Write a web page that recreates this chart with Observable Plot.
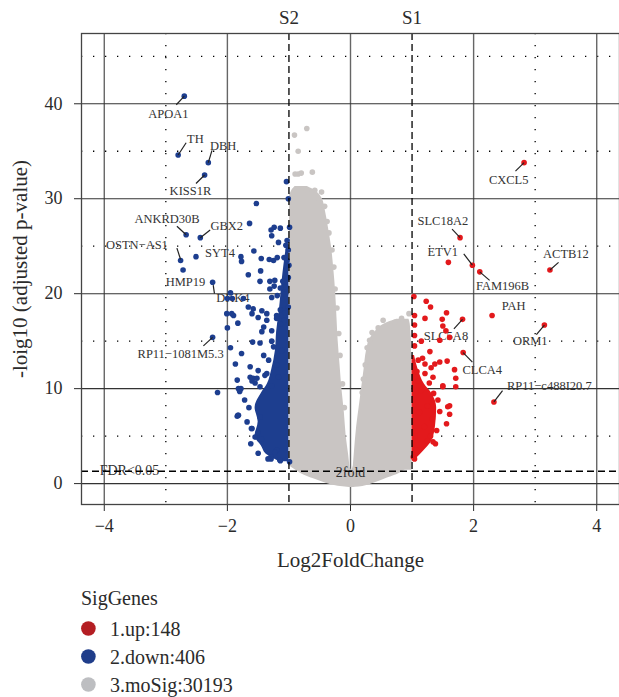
<!DOCTYPE html>
<html><head><meta charset="utf-8">
<script src="https://cdn.jsdelivr.net/npm/d3@7"></script>
<script src="https://cdn.jsdelivr.net/npm/@observablehq/plot@0.6"></script>
<style>
body{margin:0;background:#fff;}
#wrap{position:relative;width:619px;height:697px;overflow:hidden;background:#fff;}
#wrap svg{display:block;}
</style></head><body><div id="wrap"></div><script>
// ---------- data ----------
const xTicks = [-4, -2, 0, 2, 4];
const yTicks = [0, 10, 20, 30, 40];
const xMinor = [-3, 3];
const yMinor = [5, 15, 25, 35, 45];
const foldLines = [{x: -1, name: "S2"}, {x: 1, name: "S1"}];
const fdrLine = [1.3];

// grey (not significant) cloud outlines: [y, xLeft, xRight]
const greyLeft = [[1.8,-0.99,-0.01],[3,-0.99,-0.03],[5,-0.99,-0.07],[7.5,-0.99,-0.1],[10,-0.99,-0.14],[12.5,-0.99,-0.17],[15,-0.99,-0.2],[17.5,-0.99,-0.22],[20,-0.99,-0.24],[22.5,-0.99,-0.27],[25,-0.99,-0.31],[27,-0.99,-0.36],[28.8,-0.99,-0.41],[30,-0.99,-0.46],[30.8,-0.96,-0.56],[31.3,-0.9,-0.7]];
const greyRight = [[1.4,0.04,1.0],[3,0.06,1.0],[6,0.1,1.0],[8,0.14,1.0],[10,0.18,1.0],[12,0.22,1.0],[14,0.26,0.99],[15,0.3,0.99],[16,0.4,0.98],[16.8,0.55,0.97],[17.3,0.75,0.95]];
// grey bottom bowl: [x, yBottom, yTop]
const greyBowl = [[-1.0,1.9,2.6],[-0.8,1.05,2.6],[-0.6,0.5,2.6],[-0.4,0.05,2.6],[-0.2,-0.28,2.6],[-0.05,-0.38,2.4],[0.02,-0.4,1.4],[0.08,-0.38,2.4],[0.2,-0.3,2.6],[0.4,0.1,2.6],[0.6,0.6,2.6],[0.8,1.1,2.6],[1.0,2.0,2.6]];
const greyPts = [[-0.71,37.4],[-0.91,36.7],[-0.85,35.0],[-0.9,32.6],[-0.85,32.6],[-0.8,32.7],[-0.62,32.8],[-0.71,30.9],[-0.58,30.9],[-0.47,30.7],[-0.95,30.4],[-0.52,30.0],[-0.42,29.2],[-0.38,27.6],[-0.35,26.4],[-0.3,24.6],[-0.27,22.8],[-0.25,20.5],[-0.22,18.5],[-0.19,15.8],[-0.17,13.5],[-0.13,10.5],[-0.1,8.0],
  [0.53,17.2],[0.83,17.4],[0.95,17.9],[0.35,15.9],[0.31,15.1],[0.45,16.4],[0.65,16.6],[0.72,17.0],[0.27,14.3],[0.24,12.5],[0.21,11.0],[0.19,9.6]];

// down-regulated (blue)
const downCore = [[2.3,-1.15,-1.0],[3,-1.35,-1.0],[4,-1.45,-1.0],[5,-1.55,-1.0],[6.5,-1.5,-1.0],[8,-1.55,-1.0],[9.5,-1.45,-1.0],[10.5,-1.35,-1.0],[12,-1.28,-1.0],[14,-1.22,-1.0],[16,-1.2,-1.0],[18,-1.16,-1.0],[22,-1.1,-1.0],[25,-1.04,-1.0]];
const downPts = [[-2.70,40.8],[-2.80,34.6],[-2.31,33.8],[-2.37,32.5],[-2.67,26.2],[-2.44,25.9],[-2.76,23.5],[-2.72,22.5],[-2.51,23.9],[-2.24,21.2],[-2.24,15.4],[-2.16,9.6],[-1.83,7.2],
  [-1.04,31.8],[-1.53,29.5],[-1.64,27.4],[-1.01,30.0],[-1.29,26.7],[-1.24,27.0],[-1.14,26.9],[-0.99,27.0],[-1.28,26.1],[-1.17,25.4],[-1.03,25.6],[-1.05,25.1],[-1.01,24.6],[-1.57,24.5],[-1.78,23.9],[-1.77,23.4],[-1.45,23.7],[-1.32,23.6],[-1.25,23.5],[-1.19,23.8],[-1.08,23.8],[-1.03,23.5],[-1.0,23.0],[-1.46,22.4],[-1.66,22.0],[-1.47,21.3],[-1.31,21.3],[-1.23,21.4],[-1.10,21.3],[-1.01,21.7],[-1.24,20.8],[-1.31,20.5],[-1.14,20.6],[-1.05,20.7],[-1.06,20.0],[-1.19,19.8],[-1.28,19.6],[-1.95,20.1],[-2.0,19.5],[-1.92,19.5],[-1.74,19.5],[-1.66,18.6],[-1.58,18.4],[-1.60,17.9],[-1.44,18.2],[-1.36,17.9],[-2.01,17.9],[-1.9,17.7],[-1.14,18.3],[-1.06,18.0],[-1.01,18.6],[-1.2,17.4],[-1.08,17.2],
  [-1.93,17.9],[-1.83,16.9],[-2.0,16.4],[-1.44,16.0],[-1.59,14.9],[-1.47,14.8],[-1.28,15.0],[-1.95,14.3],[-1.77,13.7],[-1.87,12.6],[-1.63,12.3],[-1.58,11.1],[-1.6,10.8],[-1.55,10.6],[-1.84,10.9],[-1.78,10.0],[-1.80,9.7],[-1.84,7.1],[-1.47,7.0],[-1.60,5.8],[-1.55,4.9],[-1.45,4.7],[-1.29,2.8],[-1.2,3.5],[-1.29,2.6],[-1.14,2.4],[-0.99,2.3],
  [-1.50,17.5],[-1.36,17.2],[-1.20,17.7],[-1.41,16.5],[-1.28,16.1],[-1.14,16.8],[-1.25,14.4],[-1.12,14.0],[-1.41,13.5],[-1.33,13.0],[-1.20,12.5],[-1.50,11.9],[-1.36,11.6],[-1.17,11.2],[-1.28,10.3],[-1.47,10.2],[-1.72,8.8],[-1.65,8.0],[-1.68,6.5],[-1.62,4.2],[-1.5,3.2],
  [-1.82,10.0],[-1.82,7.2],[-1.61,5.8],[-1.5,5.4],[-1.34,2.6],[-1.15,2.5],[-1.23,3.3],[-1.63,11.2],[-1.52,11.1],[-1.39,11.4]];

// up-regulated (red)
const upCore = [[2.5,1.0,1.05],[3.5,1.0,1.2],[4.5,1.0,1.32],[6,1.0,1.38],[8,1.0,1.4],[9.5,1.0,1.32],[10.5,1.0,1.2],[12,1.0,1.1],[13.5,1.0,1.04]];
const upPts = [[2.82,33.8],[1.78,25.9],[1.59,23.3],[1.98,23.0],[2.10,22.3],[3.24,22.5],[2.30,17.7],[3.15,16.7],[1.82,17.3],[1.83,13.8],[2.33,8.6],
  [1.03,19.7],[1.23,19.2],[1.30,18.6],[1.21,17.4],[1.04,17.7],[1.56,18.0],[1.49,17.3],[1.50,16.6],[1.55,16.1],[1.04,16.7],[1.04,15.6],[1.61,15.4],[1.45,15.1],[1.29,13.9],[1.17,13.2],[1.45,12.8],[1.37,12.6],[1.57,12.9],[1.31,12.2],[1.21,12.6],[1.10,13.0],[1.21,11.6],[1.08,11.8],[1.69,12.0],[1.71,11.1],[1.50,10.2],[1.58,8.1],[1.61,7.3],[1.56,6.3],[1.71,10.2],[1.38,4.2],[1.25,4.5],[1.07,3.5],[1.02,2.8],[1.04,14.5],[1.15,15.0],[1.35,9.5],[1.42,8.8],[1.45,7.6],[1.33,6.8],[1.4,5.6],[1.3,5.0],[1.2,6.0],[1.25,8.2],[1.15,9.8],[1.1,10.8],[1.28,10.6],[1.12,7.5],[1.05,5.0],
  [1.50,10.3],[1.61,8.2],[1.34,4.4],[1.04,2.6],[1.34,11.2]];

// gene labels (label centre in data units) and leader segments
const geneLabels = [
  {gene:"APOA1", x:-2.96, y:38.9},{gene:"TH", x:-2.52, y:36.3},{gene:"DBH", x:-2.07, y:35.6},
  {gene:"KISS1R", x:-2.60, y:30.8},{gene:"ANKRD30B", x:-2.98, y:27.9},{gene:"GBX2", x:-2.01, y:27.1},
  {gene:"OSTN\u2212AS1", x:-3.47, y:25.1},{gene:"SYT4", x:-2.12, y:24.3},{gene:"HMP19", x:-2.68, y:21.2},
  {gene:"DKK4", x:-1.91, y:19.5},{gene:"RP11\u22121081M5.3", x:-2.76, y:13.6},
  {gene:"CXCL5", x:2.57, y:32.0},{gene:"SLC18A2", x:1.50, y:27.7},{gene:"ETV1", x:1.50, y:24.4},
  {gene:"ACTB12", x:3.50, y:24.2},{gene:"FAM196B", x:2.47, y:20.8},{gene:"PAH", x:2.65, y:18.7},
  {gene:"SLC5A8", x:1.55, y:15.5},{gene:"ORM1", x:2.92, y:15.0},{gene:"CLCA4", x:2.14, y:12.0},
  {gene:"RP11\u2212c488I20.7", x:3.23, y:10.3}];
const leaders = [[-2.70,40.8,-2.83,39.9],[-2.80,34.6,-2.67,35.9],[-2.31,33.8,-2.25,35.1],[-2.37,32.5,-2.51,31.6],
  [-2.67,26.2,-2.82,27.1],[-2.44,25.9,-2.28,26.7],[-2.82,24.8,-2.76,23.6],[-2.23,20.9,-2.21,20.0],[-2.24,15.4,-2.39,14.5],
  [2.82,33.8,2.68,32.9],[1.78,25.9,1.65,26.8],[1.84,24.2,1.98,23.0],[3.24,22.5,3.38,23.3],[2.10,22.3,2.26,21.4],
  [1.82,17.3,1.68,16.3],[3.15,16.7,3.02,15.7],[1.83,13.8,1.98,12.8],[2.33,8.6,2.47,9.8]];
const refNotes = [{text:"FDR<0.05", x:-3.59, y:1.33},{text:"2fold", x:0.0, y:1.2}];

const legendTitle = "SigGenes";
const legendItems = ["1.up:148", "2.down:406", "3.moSig:30193"];
const xTitle = "Log2FoldChange";
const yTitle = "-loig10 (adjusted p-value)";

// ---------- styles ----------
const serif = "'Liberation Serif', 'Times New Roman', serif";
const cGrey = "#c9c5c3", cBlue = "#1d3e8f", cRed = "#e3191c";
const legendColors = ["#b41e23", "#1f3d8a", "#bdbec1"];
const ink = "#2b2b2b";

const plot = Plot.plot({
  width: 619, height: 575,
  marginLeft: 81, marginRight: 0, marginTop: 33, marginBottom: 71,
  style: {fontFamily: serif, fontSize: "18px", color: ink, background: "#fff", overflow: "visible"},
  x: {domain: [-4.37, 4.37], ticks: xTicks, tickSize: 7, tickPadding: 8, label: null},
  y: {domain: [-2.2, 47.4], ticks: yTicks, tickSize: 7, tickPadding: 12, label: null},
  marks: [
    Plot.ruleX(xMinor, {stroke: "#000", strokeWidth: 1.3, strokeDasharray: "1.3,10.7"}),
    Plot.ruleY(yMinor, {stroke: "#000", strokeWidth: 1.3, strokeDasharray: "1.3,10.7"}),
    Plot.ruleX(xTicks, {stroke: "#666", strokeWidth: 1.4}),
    Plot.ruleY(yTicks, {stroke: "#333", strokeWidth: 1.1}),
    Plot.areaY(greyBowl, {x: d => d[0], y1: d => d[1], y2: d => d[2], fill: cGrey, curve: "monotone-x"}),
    Plot.areaX(greyLeft, {y: d => d[0], x1: d => d[1], x2: d => d[2], fill: cGrey, curve: "monotone-y"}),
    Plot.areaX(greyRight, {y: d => d[0], x1: d => d[1], x2: d => d[2], fill: cGrey, curve: "monotone-y"}),
    Plot.dot(greyPts, {x: d => d[0], y: d => d[1], r: 2.8, fill: cGrey}),
    Plot.text(geneLabels, {x: "x", y: "y", text: "gene", fontSize: 12.5, fill: "#333", fontFamily: serif}),
    Plot.text(refNotes, {x: "x", y: "y", text: "text", fontSize: 14, fill: "#333", fontFamily: serif}),
    Plot.areaX(downCore, {y: d => d[0], x1: d => d[1], x2: d => d[2], fill: cBlue, curve: "monotone-y"}),
    Plot.dot(downPts, {x: d => d[0], y: d => d[1], r: 2.8, fill: cBlue}),
    Plot.areaX(upCore, {y: d => d[0], x1: d => d[1], x2: d => d[2], fill: cRed, curve: "monotone-y"}),
    Plot.dot(upPts, {x: d => d[0], y: d => d[1], r: 2.8, fill: cRed}),
    Plot.link(leaders, {x1: d => d[0], y1: d => d[1], x2: d => d[2], y2: d => d[3], stroke: "#222", strokeWidth: 1.2}),
    Plot.ruleX(foldLines, {x: "x", stroke: "#000", strokeWidth: 1.3, strokeDasharray: "7,4"}),
    Plot.ruleY(fdrLine, {stroke: "#000", strokeWidth: 1.3, strokeDasharray: "7,4"}),
    Plot.text(foldLines, {x: "x", text: "name", frameAnchor: "top", dy: -16, lineAnchor: "middle", fontSize: 19, fill: ink}),
    Plot.text([xTitle], {text: d => d, frameAnchor: "bottom", dy: 56, textAnchor: "middle", lineAnchor: "middle", fontSize: 21, fill: ink}),
    Plot.text([yTitle], {text: d => d, frameAnchor: "left", dx: -61, rotate: -90, textAnchor: "middle", lineAnchor: "middle", fontSize: 21, fill: ink}),
    Plot.frame({stroke: "#444", strokeWidth: 1.3})
  ]
});
const wrap = document.getElementById("wrap");
wrap.appendChild(plot);

// legend (below the plot)
const leg = d3.create("svg").attr("width", 619).attr("height", 122).style("display", "block")
  .style("font-family", serif);
leg.append("text").attr("x", 81).attr("y", 23).attr("dominant-baseline", "central")
  .attr("font-size", 20).attr("fill", ink).text(legendTitle);
legendItems.forEach((t, i) => {
  const cy = 53.5 + i * 28;
  leg.append("circle").attr("cx", 88.4).attr("cy", cy).attr("r", 7.3).attr("fill", legendColors[i]);
  leg.append("text").attr("x", 110).attr("y", cy).attr("dominant-baseline", "central")
    .attr("font-size", 20).attr("fill", ink).text(t);
});
wrap.appendChild(leg.node());
</script></body></html>
